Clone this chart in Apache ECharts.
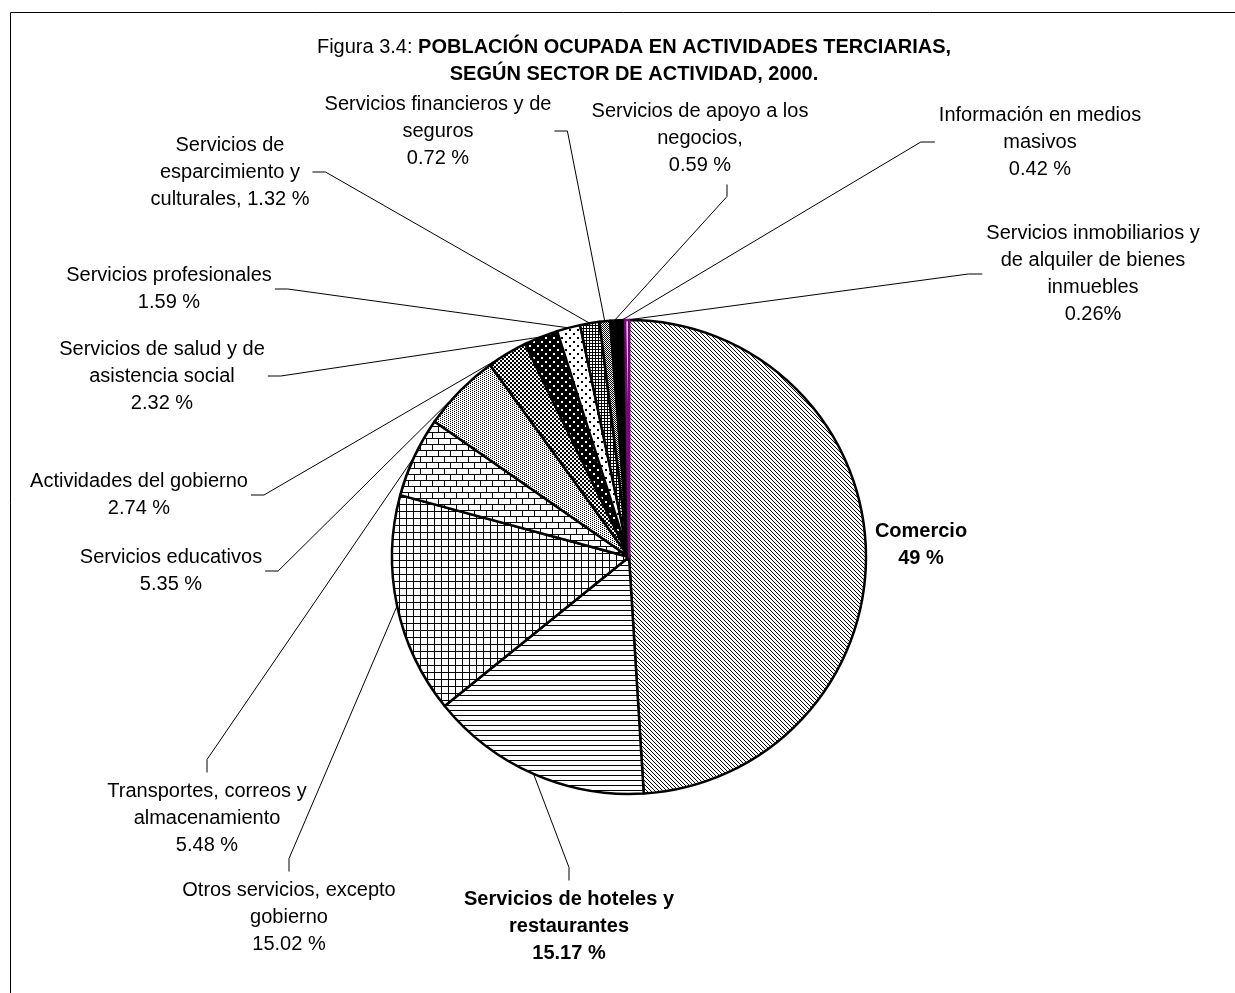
<!DOCTYPE html>
<html><head><meta charset="utf-8">
<script src="https://cdn.jsdelivr.net/npm/echarts@6/dist/echarts.min.js"></script>
<style>html,body{margin:0;padding:0;background:#fff}#c{width:1235px;height:993px}</style>
</head><body><div id="c"></div>
<script>
const categories = ['Comercio','Servicios de hoteles y restaurantes','Otros servicios, excepto gobierno','Transportes, correos y almacenamiento','Servicios educativos','Actividades del gobierno','Servicios de salud y de asistencia social','Servicios profesionales','Servicios de esparcimiento y culturales','Servicios financieros y de seguros','Servicios de apoyo a los negocios','Información en medios masivos','Servicios inmobiliarios y de alquiler de bienes inmuebles'];
const values = [49, 15.17, 15.02, 5.48, 5.35, 2.74, 2.32, 1.59, 1.32, 0.72, 0.59, 0.42, 0.26];
const labelTemplates = ['Comercio\n# %','Servicios de hoteles y\nrestaurantes\n# %','Otros servicios, excepto\ngobierno\n# %','Transportes, correos y\nalmacenamiento\n# %','Servicios educativos\n# %','Actividades del gobierno\n# %','Servicios de salud y de\nasistencia social\n# %','Servicios profesionales\n# %','Servicios de\nesparcimiento y\nculturales, # %','Servicios financieros y de\nseguros\n# %','Servicios de apoyo a los\nnegocios,\n# %','Información en medios\nmasivos\n# %','Servicios inmobiliarios y\nde alquiler de bienes\ninmuebles\n#%'];
const boldLabels = ['Comercio','Servicios de hoteles y restaurantes'];

// label placement (layout only)
const labelLayoutCfg = [
  {x:921,y:545,side:'none'},
  {x:569,y:926,side:'top'},
  {x:289,y:917,side:'top'},
  {x:207,y:818,side:'top'},
  {x:171,y:571,side:'right'},
  {x:139,y:495,side:'right'},
  {x:162,y:376,side:'right'},
  {x:169,y:289,side:'right'},
  {x:230,y:172,side:'right'},
  {x:438,y:131,side:'right'},
  {x:700,y:138,side:'bottom', off:27},
  {x:1040,y:142,side:'left'},
  {x:1093,y:274,side:'left'}
];

function pat(w,h,bg,fg,rects){
  const c=document.createElement('canvas'); c.width=w; c.height=h;
  const g=c.getContext('2d'); g.fillStyle=bg; g.fillRect(0,0,w,h); g.fillStyle=fg;
  rects.forEach(r=>g.fillRect(r[0],r[1],r[2]||1,r[3]||1));
  return {image:c, repeat:'repeat'};
}
const fills = [
  pat(4,4,'#fff','#000',[[0,0],[1,1],[2,2],[3,3]]),
  pat(5,5,'#fff','#000',[[0,0,5,1]]),
  pat(7,7,'#fff','#000',[[0,0,7,1],[0,0,1,7]]),
  pat(12,12,'#fff','#000',[[0,0,12,1],[0,6,12,1],[0,0,1,6],[6,6,1,6]]),
  pat(4,4,'#fff','#000',[[0,0],[2,1],[0,2],[2,3]]),
  pat(4,4,'#fff','#000',[[0,0,2,2],[2,2,2,2]]),
  pat(8,8,'#000','#fff',[[1,1,2,2],[5,5,2,2]]),
  pat(8,8,'#fff','#000',[[1,1,2,2],[5,5,2,2]]),
  pat(3,3,'#fff','#000',[[1,0],[0,1],[1,1],[2,1],[1,2]]),
  pat(2,2,'#fff','#000',[[0,0],[1,1]]),
  '#000',
  '#000',
  '#ffffff'
];

const data = categories.map((n,i)=>{
  const d = {name:n, value:values[i], itemStyle:{color:fills[i]}};
  if (boldLabels.indexOf(n)>=0) d.label = {fontWeight:'bold'};
  if (i===0) d.labelLine = {show:false};
  if (i===12) d.itemStyle.borderColor = '#800080';
  return d;
});

const chart = echarts.init(document.getElementById('c'), null, {renderer:'canvas'});
chart.setOption({
  backgroundColor:'#fff',
  animation:false,
  title:{
    text:'{n|Figura 3.4: }{b|POBLACIÓN OCUPADA EN ACTIVIDADES TERCIARIAS,}\n{b|SEGÚN SECTOR DE ACTIVIDAD, 2000.}',
    left:634, top:34, padding:0, textAlign:'center',
    textStyle:{
      fontFamily:'Liberation Sans', fontSize:20, lineHeight:27, color:'#000',
      rich:{
        n:{fontFamily:'Liberation Sans', fontSize:20, fontWeight:'normal', lineHeight:27, color:'#000'},
        b:{fontFamily:'Liberation Sans', fontSize:20, fontWeight:'bold', lineHeight:27, color:'#000'}
      }
    }
  },
  graphic:[{type:'rect', left:8, top:10, silent:true, z:-1,
    shape:{width:1260, height:1010}, style:{fill:'none', stroke:'#000', lineWidth:1}}],
  series:[{
    type:'pie',
    center:[629,557],
    radius:237,
    startAngle:90,
    clockwise:true,
    avoidLabelOverlap:false,
    silent:true,
    emphasis:{disabled:true},
    itemStyle:{borderColor:'#000', borderWidth:2.5},
    label:{
      show:true, position:'outside',
      fontFamily:'Liberation Sans', fontSize:20, lineHeight:27, color:'#000', align:'center',
      formatter:function(p){ return labelTemplates[p.dataIndex].replace('#', String(p.value)); }
    },
    labelLine:{show:true, length:20, length2:10, lineStyle:{color:'#000', width:1}},
    labelLayout:function(p){
      const cfg = labelLayoutCfg[p.dataIndex];
      const w = p.labelRect.width, h = p.labelRect.height;
      const res = {x:cfg.x, y:cfg.y, align:'center', verticalAlign:'middle'};
      const a = p.labelLinePoints && p.labelLinePoints[0];
      if (a && cfg.side!=='none'){
        const L=cfg.x-w/2, R=cfg.x+w/2, T=cfg.y-h/2, B=cfg.y+h/2;
        let end, elbow;
        if (cfg.side==='right'){ end=[R+3,cfg.y]; elbow=[R+16,cfg.y]; }
        else if (cfg.side==='left'){ end=[L-4,cfg.y]; elbow=[L-18,cfg.y]; }
        else if (cfg.side==='top'){ end=[cfg.x,T-5]; elbow=[cfg.x,T-18]; }
        else { const bx = cfg.x + (cfg.off||0); end=[bx,B+6]; elbow=[bx,B+18]; }
        res.labelLinePoints=[a, elbow, end];
      }
      return res;
    },
    data:data
  }]
});
</script></body></html>
